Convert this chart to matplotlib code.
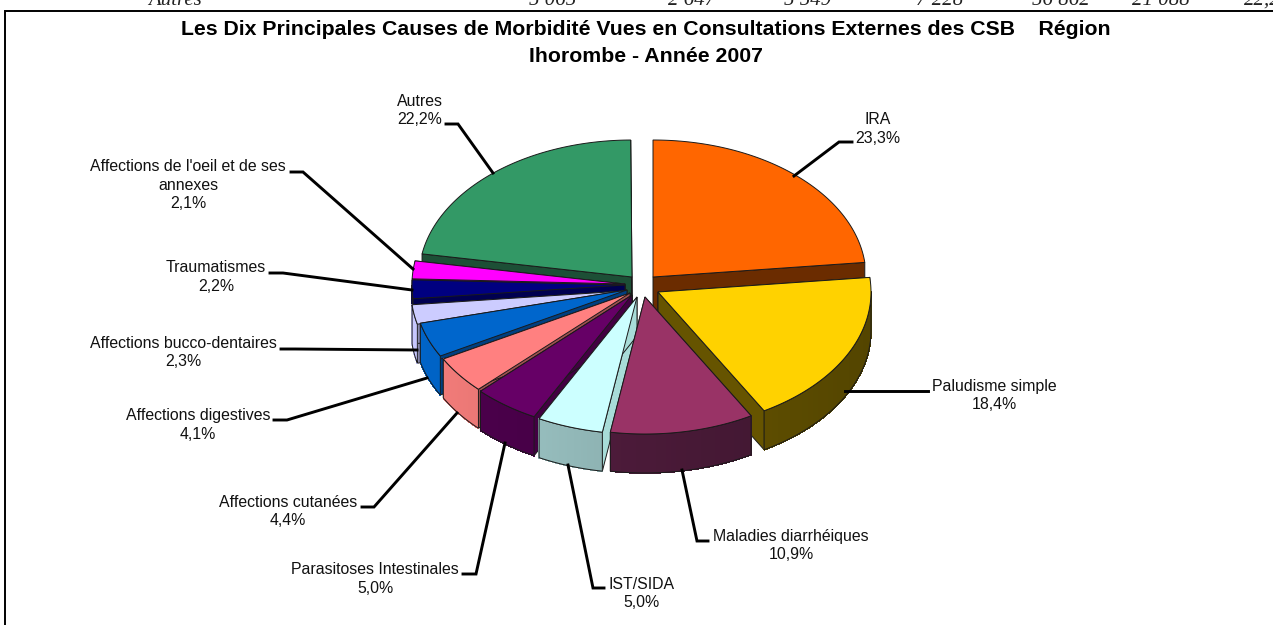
import numpy as np
from matplotlib import pyplot as plt
from matplotlib.colors import to_rgb
from matplotlib.patches import Polygon

plt.rcParams['font.family'] = ['Liberation Sans', 'DejaVu Sans']

categories = ['IRA', 'Paludisme simple', 'Maladies diarrhéiques', 'IST/SIDA', 'Parasitoses Intestinales',
              'Affections cutanées', 'Affections digestives', 'Affections bucco-dentaires', 'Traumatismes',
              "Affections de l'oeil et de ses\nannexes", 'Autres']
percents = [23.3, 18.4, 10.9, 5.0, 5.0, 4.4, 4.1, 2.3, 2.2, 2.1, 22.2]

top_colors = ['#ff6600', '#ffd200', '#993366', '#ccffff', '#660066', '#ff8080', '#0066cc', '#ccccff', '#000080',
              '#ff00ff', '#339966']
side_colors = ['#6b2c00', '#665400', '#4a1a38', '#8aaeae', '#420042', '#d06a68', '#0055aa', '#a9a9d8', '#000050',
               '#a000a0', '#1d4f36']
cut_colors = ['#6b2c00', '#665400', '#4a1a38', '#a8dcd8', '#420042', '#a05050', '#003f80', '#8888b0', '#000050',
              '#a000a0', '#1d4f36']

table_row = [('Autres', 175), ('5 065', 553), ('2 647', 692), ('5 549', 808), ('7 228', 940), ('56 862', 1061),
             ('21 088', 1161), ('22,2', 1262)]

# pie geometry, pixels of the 1273x625 picture
cx, cy = 640, 285
rx, ry = 213, 137
depth = 39
explode = [(13, -8), (18, 7), (5, 12), (-3, 12), (-8, 10), (-10, 8), (-13, 5), (-16, 6), (-15, 0), (-15, -1),
           (-8, -8)]
draw_order = [10, 0, 9, 8, 7, 6, 5, 4, 3, 1, 2]

label_pos = [(878, 129), (994, 395.5), (791, 545.5), (642, 593.5), (375, 579), (288, 511.5), (198, 425), (183, 352.5),
             (216, 277), (188, 185), (420, 110.5)]
leaders = [[(852, 142), (839, 142), (794, 176)],
           [(928, 391), (845, 391)],
           [(708, 541), (697, 541), (682, 470)],
           [(604, 588), (593, 588), (568, 465)],
           [(463, 574), (476, 574), (505, 443)],
           [(362, 507), (374, 507), (457, 413)],
           [(274, 420), (287, 420), (427, 378)],
           [(281, 349), (295, 349), (417, 350)],
           [(270, 273), (283, 273), (412, 290)],
           [(291, 172), (303, 172), (413, 269)],
           [(446, 124), (458, 124), (493, 173)]]


def rim(apex, angles):
    t = np.radians(angles)
    return np.column_stack([apex[0] + rx * np.sin(t), apex[1] - ry * np.cos(t)])


def shade(color, k):
    return tuple(min(1, c * k) for c in to_rgb(color))


fig = plt.figure(figsize=(12.73, 6.25), dpi=100)
ax = fig.add_axes([0, 0, 1, 1])
ax.set_xlim(0, 1273)
ax.set_ylim(625, 0)
ax.axis('off')

edges = np.cumsum([0] + percents) * 3.6
edge_color = '#1a1a1a'
lw = 0.7

for i in draw_order:
    start, end = edges[i], edges[i + 1]
    apex = (cx + explode[i][0], cy + explode[i][1])
    arc = rim(apex, np.linspace(start, end, 80))
    down = np.array([0, depth])

    # the two cut faces
    for p in (arc[0], arc[-1]):
        ax.add_patch(Polygon([apex, p, p + down, np.array(apex) + down], closed=True, facecolor=cut_colors[i],
                             edgecolor=edge_color, lw=lw, zorder=1))

    # outer wall, only the front half shows
    a0, a1 = max(start, 90), min(end, 270)
    if a1 > a0:
        steps = np.linspace(a0, a1, 30)
        for s0, s1 in zip(steps[:-1], steps[1:]):
            seg = rim(apex, np.array([s0, s1]))
            k = 1.0 - 0.18 * np.sin(np.radians((s0 + s1) / 2))
            ax.add_patch(Polygon([seg[0], seg[1], seg[1] + down, seg[0] + down], closed=True,
                                 facecolor=shade(side_colors[i], k), edgecolor=shade(side_colors[i], k), lw=0.5,
                                 antialiased=False, zorder=1))
        wall = rim(apex, steps)
        ax.add_patch(Polygon(np.vstack([wall, wall[::-1] + down]), closed=True, fill=False, edgecolor=edge_color,
                             lw=lw, zorder=1))

    ax.add_patch(Polygon(np.vstack([apex, arc]), closed=True, facecolor=top_colors[i], edgecolor=edge_color, lw=lw,
                         zorder=1))

for i, cat in enumerate(categories):
    pts = np.array(leaders[i])
    ax.plot(pts[:, 0], pts[:, 1], color='black', lw=2.1, solid_joinstyle='miter', zorder=2)
    value = f'{percents[i]:.1f}%'.replace('.', ',')
    ax.text(label_pos[i][0], label_pos[i][1], f'{cat}\n{value}', ha='center', va='center', fontsize=11.45,
            linespacing=1.27, color='#111111', zorder=3)

ax.text(645.5, 43, 'Les Dix Principales Causes de Morbidité Vues en Consultations Externes des CSB    Région\n'
        'Ihorombe - Année 2007', ha='center', va='center', fontsize=15.3, fontweight='bold', linespacing=1.58,
        color='black')

# frame of the chart and the cut off table row above it
ax.plot([4.5, 4.5, 1273], [625, 10.5, 10.5], color='black', lw=1.4, solid_joinstyle='miter')
for txt, x in table_row:
    ax.text(x, 5, txt, ha='center', va='baseline', fontsize=15, style='italic', color='#222222',
            family='Liberation Serif')

fig.savefig('out.png', dpi=100)
